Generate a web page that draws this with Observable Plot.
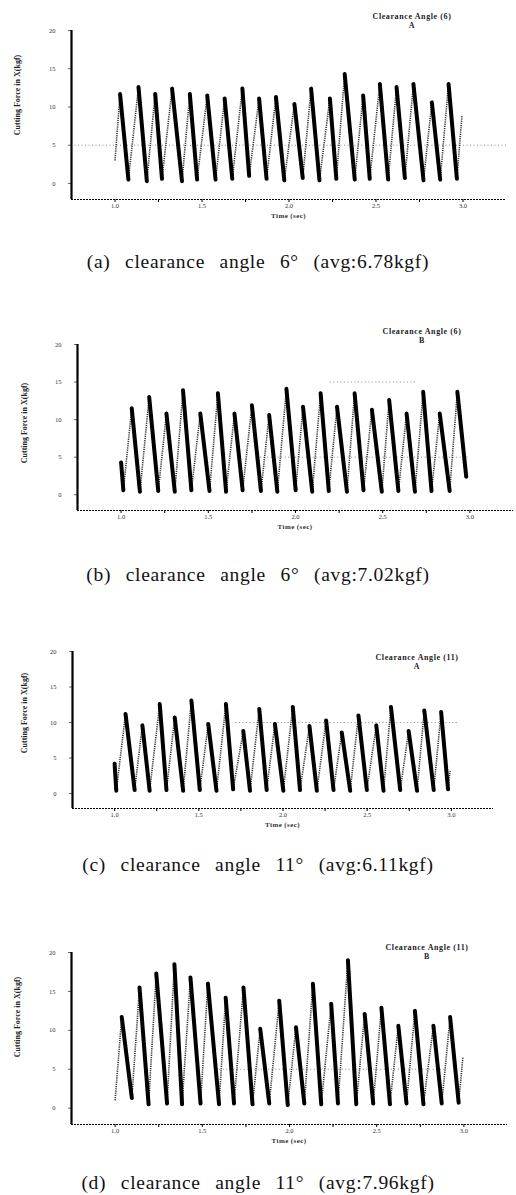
<!DOCTYPE html>
<html><head><meta charset="utf-8">
<script src="https://cdn.jsdelivr.net/npm/d3@7"></script>
<script src="https://cdn.jsdelivr.net/npm/@observablehq/plot@0.6"></script>
<style>
body{margin:0;background:#fff;}
#root{position:relative;width:516px;height:1195px;overflow:hidden;background:#fff;font-family:"Liberation Serif","Times New Roman",serif;}
.abs{position:absolute;white-space:nowrap;}
.panel{position:absolute;left:0;}
.title{font-weight:bold;font-size:8px;letter-spacing:0.6px;text-align:center;transform:translateX(-50%);line-height:9px;color:#222;}
.ylab{font-weight:bold;font-size:8px;line-height:8px;transform:translate(-50%,-50%) rotate(-90deg);color:#222;}
.xlab{font-weight:bold;font-size:7px;line-height:7px;letter-spacing:0.4px;transform:translate(-50%,-50%);color:#333;}
.cap{font-size:19.5px;line-height:20px;letter-spacing:0.7px;word-spacing:9px;transform:translate(-50%,-50%);color:#111;}
</style></head><body><div id="root"></div>
<script>
// ---- data: alternating vertices (time s, force kgf) ----
const timeA  = [1.000,1.029,1.077,1.135,1.183,1.231,1.270,1.328,1.385,1.430,1.472,1.530,1.578,1.630,1.674,1.732,1.771,1.828,1.871,1.925,1.973,2.031,2.079,2.127,2.175,2.235,2.272,2.320,2.378,2.426,2.464,2.522,2.570,2.618,2.666,2.715,2.773,2.821,2.869,2.917,2.965,2.994];
const forceA = [3.0,11.7,0.5,12.6,0.3,11.7,0.6,12.4,0.3,11.7,0.5,11.5,0.5,11.1,0.6,12.4,1.0,11.1,0.6,11.3,0.4,10.4,0.7,12.4,0.4,11.1,0.6,14.3,0.5,11.5,0.6,13.0,0.5,12.6,0.7,13.0,0.4,10.6,0.5,13.0,0.6,8.9];

const timeB  = [1.000,1.013,1.061,1.108,1.161,1.213,1.260,1.308,1.355,1.403,1.454,1.507,1.555,1.602,1.650,1.697,1.750,1.802,1.849,1.896,1.948,2.001,2.043,2.096,2.144,2.191,2.238,2.295,2.339,2.390,2.438,2.495,2.537,2.590,2.637,2.685,2.732,2.780,2.827,2.884,2.928,2.979];
const forceB = [4.3,0.6,11.5,0.4,13.0,0.5,10.8,0.4,13.9,0.6,10.8,0.5,13.5,0.4,10.8,0.6,11.9,0.5,10.6,0.4,14.1,0.6,11.7,0.4,13.5,0.5,11.7,0.4,13.5,0.6,11.3,0.4,12.6,0.5,10.8,0.4,13.7,0.5,10.8,0.5,13.7,2.4];

const timeC  = [1.000,1.010,1.065,1.119,1.165,1.208,1.268,1.308,1.357,1.407,1.456,1.506,1.556,1.605,1.661,1.704,1.764,1.804,1.859,1.903,1.952,2.002,2.058,2.101,2.157,2.201,2.256,2.300,2.349,2.399,2.448,2.498,2.554,2.597,2.641,2.696,2.746,2.796,2.839,2.895,2.939,2.980,2.992];
const forceC = [4.2,0.4,11.2,0.5,9.6,0.4,12.6,0.5,10.7,0.4,13.1,0.5,9.8,0.4,12.6,0.6,8.8,0.4,11.9,0.5,9.8,0.4,12.2,0.5,9.5,0.4,10.3,0.5,8.6,0.4,11.0,0.5,9.6,0.4,12.2,0.5,8.8,0.4,11.7,0.5,11.5,0.6,3.2];

const timeD  = [1.000,1.038,1.096,1.140,1.192,1.236,1.298,1.340,1.384,1.432,1.490,1.532,1.596,1.634,1.682,1.736,1.788,1.832,1.884,1.941,1.990,2.037,2.085,2.134,2.182,2.239,2.278,2.335,2.383,2.431,2.480,2.527,2.576,2.624,2.671,2.719,2.768,2.825,2.873,2.921,2.970,2.994];
const forceD = [1.0,11.7,1.3,15.5,0.5,17.3,0.6,18.5,0.5,16.8,0.6,16.0,0.5,14.2,0.6,15.5,0.5,10.2,0.6,13.8,0.4,10.4,0.6,16.0,0.5,13.4,0.6,19.0,0.5,12.1,0.6,12.9,0.5,10.6,0.6,12.5,0.5,10.6,0.6,11.7,0.7,6.5];

// ---- axes / labels ----
const yTicks = [0, 5, 10, 15, 20];
const xTicks = [1, 1.25, 1.5, 1.75, 2, 2.25, 2.5, 2.75, 3];
const xTickLabels = ["1.0", "", "1.5", "", "2.0", "", "2.5", "", "3.0"];
const titles = ["Clearance Angle (6)", "Clearance Angle (6)", "Clearance Angle (11)", "Clearance Angle (11)"];
const subTitles = ["A", "B", "A", "B"];
const captions = ["(a) clearance angle 6° (avg:6.78kgf)", "(b) clearance angle 6° (avg:7.02kgf)",
                  "(c) clearance angle 11° (avg:6.11kgf)", "(d) clearance angle 11° (avg:7.96kgf)"];
const yLabel = "Cutting Force in X(kgf)";
const xLabel = "Time (sec)";
const gridLines = [
  [{y: 5, a: 0.75, b: 3.25}],
  [{y: 15, a: 2.2, b: 2.7}, {y: 5, a: 1.8, b: 3.0}],
  [{y: 10, a: 1.72, b: 3.05}],
  [{y: 5, a: 1.6, b: 2.9}]
];

// ---- layout (pixels) ----
const layout = [
  {top: 20,  left: 71, right: 506, y20: 30,  yAxis: 199, titleX: 412, titleY: 12,  ylabX: 18, ylabY: 95,   capY: 262},
  {top: 334, left: 77, right: 513, y20: 344, yAxis: 510, titleX: 422, titleY: 327, ylabX: 25, ylabY: 423,  capY: 575},
  {top: 641, left: 72, right: 493, y20: 651, yAxis: 808, titleX: 417, titleY: 653, ylabX: 25, ylabY: 713,  capY: 865},
  {top: 942, left: 71, right: 507, y20: 952, yAxis: 1124, titleX: 427, titleY: 943, ylabX: 18, ylabY: 1017, capY: 1183}
];

const series = [[timeA, forceA], [timeB, forceB], [timeC, forceC], [timeD, forceD]];
const xDomain = [0.75, 3.25];
const yMin = -2.1;

const root = document.getElementById("root");
function addDiv(cls, text, x, y) {
  const d = document.createElement("div");
  d.className = "abs " + cls;
  d.textContent = text;
  d.style.left = x + "px";
  d.style.top = y + "px";
  root.appendChild(d);
  return d;
}

series.forEach(([ts, fs], k) => {
  const L = layout[k];
  const H = L.yAxis + 24 - L.top;
  const pts = ts.map((t, i) => ({t, f: fs[i]}));
  const falls = [];
  const rises = [];
  for (let i = 0; i + 1 < pts.length; i++) {
    const seg = {t1: pts[i].t, f1: pts[i].f, t2: pts[i + 1].t, f2: pts[i + 1].f};
    (pts[i + 1].f < pts[i].f ? falls : rises).push(seg);
  }
  const grid = gridLines[k];
  const chart = Plot.plot({
    width: 516,
    height: H,
    marginLeft: L.left,
    marginRight: 516 - L.right,
    marginTop: L.y20 - L.top,
    marginBottom: L.top + H - L.yAxis,
    style: {fontFamily: "Liberation Serif, serif", background: "transparent"},
    x: {domain: xDomain},
    y: {domain: [yMin, 20]},
    marks: [
      Plot.ruleY(grid, {y: "y", x1: "a", x2: "b", stroke: "#888", strokeWidth: 1, strokeDasharray: "1,2.5"}),
      Plot.axisY({ticks: yTicks, tickSize: 3, tickPadding: 13, fontSize: 6.5, label: null, stroke: "#666", fill: "#333"}),
      Plot.axisX({ticks: xTicks, tickSize: 3, tickPadding: 1, fontSize: 6.5, label: null, stroke: "#000", fill: "#333",
                  tickFormat: d => xTickLabels[xTicks.indexOf(d)]}),
      Plot.ruleY([yMin], {stroke: "#000", strokeWidth: 1, strokeDasharray: "2,1"}),
      Plot.ruleX([xDomain[0]], {y1: yMin, y2: 20, stroke: "#000", strokeWidth: 2.2}),
      Plot.link(rises, {x1: "t1", y1: "f1", x2: "t2", y2: "f2", stroke: "#333", strokeWidth: 1.6, strokeDasharray: "1.2,1"}),
      Plot.link(falls, {x1: "t1", y1: "f1", x2: "t2", y2: "f2", stroke: "#000", strokeWidth: 4, strokeLinecap: "round"})
    ]
  });
  const wrap = document.createElement("div");
  wrap.className = "panel";
  wrap.style.top = L.top + "px";
  wrap.appendChild(chart);
  root.appendChild(wrap);

  const t = addDiv("title", titles[k], L.titleX, L.titleY);
  t.appendChild(document.createElement("br"));
  t.appendChild(document.createTextNode(subTitles[k]));
  addDiv("ylab", yLabel, L.ylabX, L.ylabY);
  addDiv("xlab", xLabel, (L.left + L.right) / 2, L.yAxis + 17);
  addDiv("cap", captions[k], 258, L.capY);
});
</script>
</body></html>
